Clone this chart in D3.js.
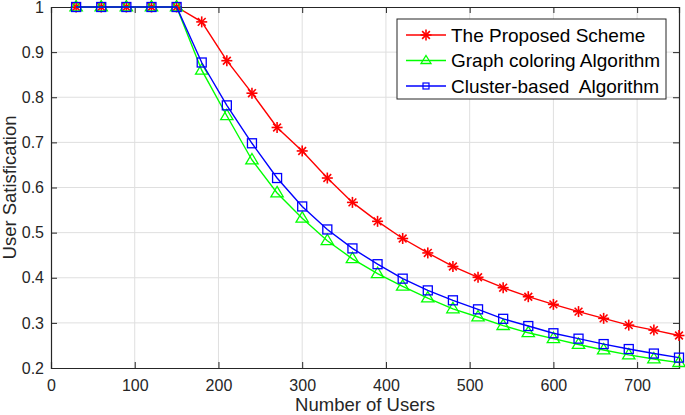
<!DOCTYPE html>
<html>
<head>
<meta charset="utf-8">
<script src="https://cdn.jsdelivr.net/npm/d3@7"></script>
<style>
  body { margin: 0; background: #fff; }
  text { font-family: "Liberation Sans", Arial, Helvetica, sans-serif; fill: #262626; }
</style>
</head>
<body>
<div id="chart"></div>
<script>
// number of users
const users = [30, 60, 90, 120, 150, 180, 210, 240, 270, 300, 330, 360, 390, 420, 450,
  480, 510, 540, 570, 600, 630, 660, 690, 720, 750];
// user satisfaction per series
const proposed = [1, 1, 1, 1, 1, 0.967, 0.881, 0.809, 0.733, 0.681, 0.621, 0.567, 0.525, 0.487, 0.455,
  0.425, 0.401, 0.378, 0.358, 0.341, 0.325, 0.310, 0.295, 0.284, 0.272];
const graphColoring = [1, 1, 1, 1, 1, 0.860, 0.759, 0.661, 0.588, 0.532, 0.482, 0.442, 0.409, 0.381, 0.355,
  0.331, 0.313, 0.294, 0.278, 0.265, 0.252, 0.240, 0.229, 0.220, 0.212];
const clusterBased = [1, 1, 1, 1, 1, 0.877, 0.782, 0.698, 0.621, 0.558, 0.507, 0.465, 0.430, 0.398, 0.372,
  0.350, 0.330, 0.309, 0.293, 0.277, 0.265, 0.253, 0.242, 0.232, 0.223];
const seriesNames = ["The Proposed Scheme", "Graph coloring Algorithm", "Cluster-based  Algorithm"];
const xTicks = [0, 100, 200, 300, 400, 500, 600, 700];
const yTicks = [0.2, 0.3, 0.4, 0.5, 0.6, 0.7, 0.8, 0.9, 1];

const W = 685, H = 415;
const margin = {top: 7, right: 6, bottom: 47, left: 51};

const series = [
  {name: seriesNames[0], values: proposed, color: "#ff0000", marker: "star"},
  {name: seriesNames[1], values: graphColoring, color: "#00ff00", marker: "triangle"},
  {name: seriesNames[2], values: clusterBased, color: "#0000ff", marker: "square"}
];

const svg = d3.select("#chart").append("svg")
  .attr("width", W).attr("height", H);

const x = d3.scaleLinear().domain([0, 750]).range([margin.left, W - margin.right]);
const y = d3.scaleLinear().domain([0.2, 1]).range([H - margin.bottom, margin.top]);

// grid
const grid = svg.append("g");
grid.selectAll(".gx").data(xTicks.slice(1)).enter().append("line")
  .attr("x1", d => x(d)).attr("x2", d => x(d))
  .attr("y1", y(0.2)).attr("y2", y(1))
  .style("stroke", "#dfdfdf").style("stroke-width", 1);
grid.selectAll(".gy").data(yTicks.slice(1, -1)).enter().append("line")
  .attr("x1", x(0)).attr("x2", x(750))
  .attr("y1", d => y(d)).attr("y2", d => y(d))
  .style("stroke", "#dfdfdf").style("stroke-width", 1);

// axes (ticks point inward like matlab)
const tk = 6;
const xAxis = svg.append("g").attr("transform", "translate(0," + y(0.2) + ")")
  .call(d3.axisBottom(x).tickValues(xTicks).tickSize(-tk).tickPadding(12).tickFormat(d3.format("d")));
const xTop = svg.append("g").attr("transform", "translate(0," + y(1) + ")")
  .call(d3.axisTop(x).tickValues(xTicks).tickSize(-tk).tickFormat(""));
const yAxis = svg.append("g").attr("transform", "translate(" + x(0) + ",0)")
  .call(d3.axisLeft(y).tickValues(yTicks).tickSize(-tk).tickPadding(7).tickFormat(d => d === 1 ? "1" : d3.format(".1f")(d)));
const yRight = svg.append("g").attr("transform", "translate(" + x(750) + ",0)")
  .call(d3.axisRight(y).tickValues(yTicks).tickSize(-tk).tickFormat(""));

[xAxis, xTop, yAxis, yRight].forEach(a => {
  a.attr("font-size", 16).attr("font-family", "'Liberation Sans', Arial, sans-serif");
  a.select(".domain").style("stroke", "#262626").style("stroke-width", 1.2);
  a.selectAll(".tick line").style("stroke", "#262626").style("stroke-width", 1);
  a.selectAll(".tick text").style("font-size", "16px").style("fill", "#262626");
});
xAxis.selectAll(".tick line").filter(d => d === 0).remove();
yAxis.selectAll(".tick line").filter(d => d === 0.2 || d === 1).remove();

// axis titles
svg.append("text")
  .attr("x", (x(0) + x(750)) / 2).attr("y", 411)
  .attr("text-anchor", "middle").style("font-size", "18.5px")
  .text("Number of Users");
svg.append("text")
  .attr("transform", "translate(16," + ((y(0.2) + y(1)) / 2) + ") rotate(-90)")
  .attr("text-anchor", "middle").style("font-size", "18.5px")
  .text("User Satisfication");

function drawMarker(g, type, color) {
  if (type === "star") {
    const r = 5.5;
    [0, 45, 90, 135].forEach(a => {
      const rad = a * Math.PI / 180;
      g.append("line")
        .attr("x1", -r * Math.cos(rad)).attr("y1", -r * Math.sin(rad))
        .attr("x2", r * Math.cos(rad)).attr("y2", r * Math.sin(rad))
        .style("stroke", color).style("stroke-width", 1.6);
    });
  } else if (type === "triangle") {
    const s = 6.5;
    g.append("path")
      .attr("d", "M0," + (-s) + "L" + (s * 0.95) + "," + (s * 0.6) + "L" + (-s * 0.95) + "," + (s * 0.6) + "Z")
      .style("fill", "none").style("stroke", color).style("stroke-width", 1.3);
  } else {
    const s = 4.5;
    g.append("rect").attr("x", -s).attr("y", -s).attr("width", 2 * s).attr("height", 2 * s)
      .style("fill", "none").style("stroke", color).style("stroke-width", 1.3);
  }
}

const line = d3.line().x((d, i) => x(users[i])).y(d => y(d));

series.forEach(s => {
  const g = svg.append("g");
  g.append("path").attr("d", line(s.values))
    .style("fill", "none").style("stroke", s.color).style("stroke-width", 1.4);
  s.values.forEach((v, i) => {
    const m = g.append("g").attr("transform", "translate(" + x(users[i]) + "," + y(v) + ")");
    drawMarker(m, s.marker, s.color);
  });
});

// legend
const lg = svg.append("g").attr("transform", "translate(397,19)");
lg.append("rect").attr("width", 269).attr("height", 80)
  .style("fill", "#fff").style("stroke", "#262626").style("stroke-width", 1);
series.forEach((s, i) => {
  const yy = 16 + i * 25.5;
  lg.append("line").attr("x1", 9).attr("x2", 49).attr("y1", yy).attr("y2", yy)
    .style("stroke", s.color).style("stroke-width", 1.4);
  const m = lg.append("g").attr("transform", "translate(29," + yy + ")");
  if (s.marker === "star") drawMarker(m, "star", s.color);
  else if (s.marker === "triangle") {
    m.append("path").attr("d", "M0,-5L5,3L-5,3Z")
      .style("fill", "none").style("stroke", s.color).style("stroke-width", 1.3);
  } else {
    m.append("rect").attr("x", -3).attr("y", -3).attr("width", 6).attr("height", 6)
      .style("fill", "none").style("stroke", s.color).style("stroke-width", 1.2);
  }
  lg.append("text").attr("x", 54).attr("y", yy).attr("dy", "0.35em")
    .style("font-size", "19px").style("fill", "#000")
    .style("white-space", "pre").attr("xml:space", "preserve")
    .text(s.name);
});
</script>
</body>
</html>
